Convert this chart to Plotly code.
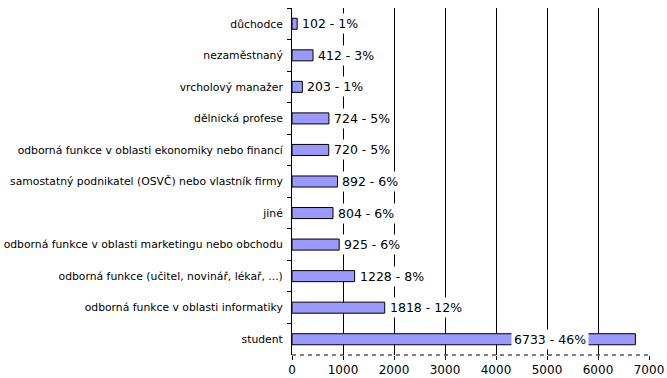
import plotly.graph_objects as go

categories = [
    "důchodce",
    "nezaměstnaný",
    "vrcholový manažer",
    "dělnická profese",
    "odborná funkce v oblasti ekonomiky nebo financí",
    "samostatný podnikatel (OSVČ) nebo vlastník firmy",
    "jiné",
    "odborná funkce v oblasti marketingu nebo obchodu",
    "odborná funkce (učitel, novinář, lékař, ...)",
    "odborná funkce v oblasti informatiky",
    "student",
]
values = [102, 412, 203, 724, 720, 892, 804, 925, 1228, 1818, 6733]
percents = [1, 3, 1, 5, 5, 6, 6, 6, 8, 12, 46]
x_ticks = [0, 1000, 2000, 3000, 4000, 5000, 6000, 7000]

FONT = "DejaVu Sans, Verdana, sans-serif"

fig = go.Figure()
fig.add_trace(go.Bar(
    y=categories,
    x=values,
    orientation="h",
    marker=dict(color="#9999FF", line=dict(color="#000000", width=1)),
    width=0.35,
    hoverinfo="skip",
))

for cat, v, p in zip(categories, values, percents):
    text = f"{v} - {p}%"
    if v > 6000:
        fig.add_annotation(x=5050, y=cat, text=text, showarrow=False,
                           xanchor="center", yanchor="middle",
                           bgcolor="#FFFFFF", borderpad=2,
                           font=dict(family=FONT, size=12.5, color="#000000"))
    else:
        fig.add_annotation(x=v, y=cat, text=text, showarrow=False,
                           xanchor="left", yanchor="middle", xshift=2,
                           bgcolor="#FFFFFF", borderpad=2,
                           font=dict(family=FONT, size=12.5, color="#000000"))

# dashed bottom axis line
fig.add_shape(type="line", xref="x", yref="paper", x0=0, x1=7000, y0=0, y1=0,
              line=dict(color="#000000", width=1, dash="4px,4px"), layer="above")

fig.update_layout(
    width=667, height=378,
    margin=dict(l=292, r=18, t=8, b=23),
    paper_bgcolor="#FFFFFF",
    plot_bgcolor="#FFFFFF",
    showlegend=False,
    font=dict(family=FONT, size=11, color="#000000"),
    bargap=0.65,
)
fig.update_xaxes(
    range=[0, 7000],
    tickvals=x_ticks,
    ticktext=[str(t) for t in x_ticks],
    showgrid=True, gridcolor="#000000", gridwidth=1,
    zeroline=False, showline=False,
    ticks="outside", ticklen=4, tickcolor="#000000",
    tickfont=dict(family=FONT, size=12, color="#000000"),
    automargin=False,
    fixedrange=True,
)
fig.update_yaxes(
    categoryorder="array", categoryarray=categories,
    autorange="reversed",
    showgrid=False, zeroline=False,
    showline=True, linecolor="#000000", linewidth=1,
    ticks="outside", ticklen=4, tickcolor="#000000",
    tickson="boundaries",
    tickfont=dict(family=FONT, size=10.8, color="#000000"),
    ticklabelstandoff=6,
    automargin=False,
    fixedrange=True,
)

fig.write_html(
    "out.html",
    config={"displayModeBar": False},
    post_script="document.body.style.margin='0';document.body.style.overflow='hidden';",
)
